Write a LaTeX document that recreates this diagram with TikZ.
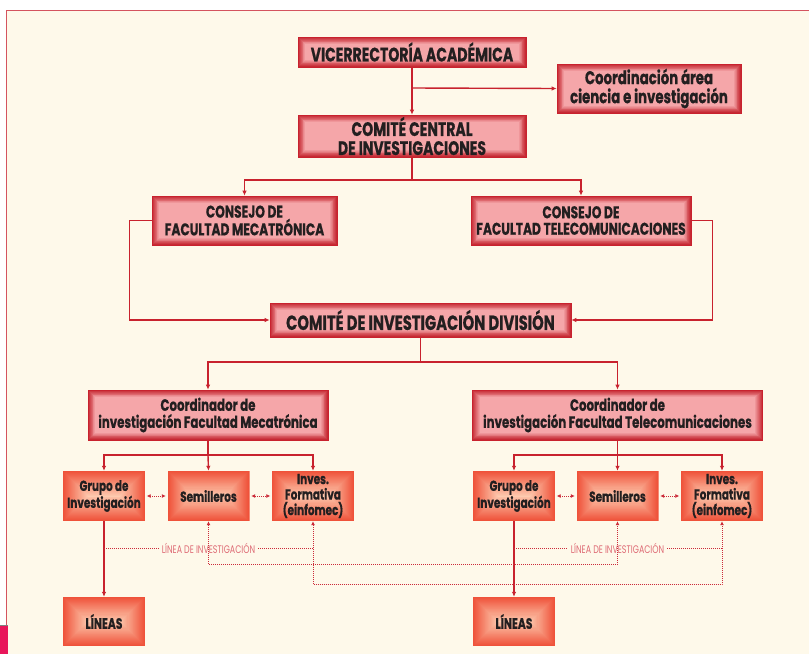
\documentclass[tikz,border=0pt]{standalone}
\usepackage{fontspec}
\newfontfamily\futc{Poppins}[FakeStretch=0.72, BoldFeatures={FakeBold=0.6}]
\usetikzlibrary{arrows.meta,calc}

\definecolor{cream}{HTML}{FEF9EA}
\definecolor{framered}{HTML}{D4545F}
\definecolor{barmag}{HTML}{E8165A}
\definecolor{lnred}{HTML}{C8222E}
\definecolor{dotred}{HTML}{CC2C3A}
\definecolor{lblred}{HTML}{DE6A74}
\definecolor{ink}{HTML}{231F20}
\definecolor{rededge}{HTML}{C62A34}
\definecolor{redface}{HTML}{F5A6A9}
\definecolor{orgedge}{HTML}{EF523A}
\definecolor{orgface}{HTML}{FDCBB0}

\tikzset{
  % nested rectangles: #1 edge colour, #2 centre colour, #3 steps, #4 step size (pt)
  bevel/.style n args={4}{path picture={%
    \foreach \k in {0,...,#3}{%
      \pgfmathtruncatemacro\pc{100*\k/#3}%
      \pgfmathsetmacro\dd{\k*#4}%
      \fill[#2!\pc!#1] ([shift={(\dd pt,\dd pt)}]path picture bounding box.south west)
        rectangle ([shift={(-\dd pt,-\dd pt)}]path picture bounding box.north east);
    }}},
  redbox/.style={rectangle, draw=lnred, line width=0.6pt, inner sep=0pt,
    bevel={rededge}{redface}{8}{0.9}, text=ink, align=center},
  orgbox/.style={rectangle, inner sep=0pt, minimum width=82pt, minimum height=50pt,
    bevel={orgedge}{orgface}{24}{1.03}, text=ink, align=center,
    font=\futc\bfseries\fontsize{14.5}{15.5}\selectfont},
  conn/.style={draw=lnred, line width=1.4pt},
  arr/.style={-{Latex[length=5pt,width=4.5pt]}},
  dots/.style={draw=dotred, line width=1pt, dash pattern=on 1pt off 1pt},
  darr/.style={{Latex[length=4pt,width=4pt]}-{Latex[length=4pt,width=4pt]}, shorten <=1.5pt, shorten >=1.5pt},
  lbl/.style={text=lblred, inner sep=3pt, font=\futc\fontsize{11}{12}\selectfont},
}

\begin{document}
\begin{tikzpicture}[x=1pt,y=-1pt]
\useasboundingbox (0,0) rectangle (809,654);
% page frame
\fill[white] (0,0) rectangle (809,654);
\fill[cream] (6.5,10.5) rectangle (809,654);
\draw[framered, line width=1.5pt] (6.5,654) -- (6.5,10.5) -- (809,10.5);
\fill[barmag] (0,626) rectangle (7.5,654);
\draw[gray, line width=1pt] (0,625.5) -- (7.5,625.5);

% upper levels
\node[redbox, minimum width=228pt, minimum height=30pt, font=\futc\bfseries\fontsize{19.5}{21}\selectfont]
  (vic) at (412,52) {VICERRECTORÍA ACADÉMICA};
\node[redbox, minimum width=184pt, minimum height=49pt, font=\futc\bfseries\fontsize{18.5}{19}\selectfont]
  (coord) at (649,88.5) {Coordinación área\\ciencia e investigación};
\node[redbox, minimum width=228pt, minimum height=42pt, font=\futc\bfseries\fontsize{19.5}{19}\selectfont]
  (ccentral) at (412,136) {COMITÉ CENTRAL\\DE INVESTIGACIONES};
\node[redbox, minimum width=185pt, minimum height=49pt, font=\futc\bfseries\fontsize{17}{16.5}\selectfont]
  (consM) at (244.5,220.5) {CONSEJO DE\\FACULTAD MECATRÓNICA};
\node[redbox, minimum width=220pt, minimum height=49pt, font=\futc\bfseries\fontsize{17}{16.5}\selectfont]
  (consT) at (581,220.5) {CONSEJO DE\\FACULTAD TELECOMUNICACIONES};
\node[redbox, minimum width=301pt, minimum height=34pt, font=\futc\bfseries\fontsize{20.5}{21}\selectfont]
  (divis) at (420.5,320) {COMITÉ DE INVESTIGACIÓN DIVISIÓN};
\node[redbox, minimum width=240pt, minimum height=50pt, font=\futc\bfseries\fontsize{16.4}{17}\selectfont]
  (coordM) at (208,415) {Coordinador de\\investigación Facultad Mecatrónica};
\node[redbox, minimum width=290pt, minimum height=50pt, font=\futc\bfseries\fontsize{16.4}{17}\selectfont]
  (coordT) at (617.5,415) {Coordinador de\\investigación Facultad Telecomunicaciones};

% research units
\node[orgbox] (grupoM) at (104,496) {Grupo de\\Investigación};
\node[orgbox] (semM) at (208.5,496) {Semilleros};
\node[orgbox] (invM) at (313,496) {Inves.\\Formativa\\(einfomec)};
\node[orgbox] (grupoT) at (514,496) {Grupo de\\Investigación};
\node[orgbox] (semT) at (617.5,496) {Semilleros};
\node[orgbox] (invT) at (722,496) {Inves.\\Formativa\\(einfomec)};
\node[orgbox, minimum height=49pt, font=\futc\bfseries\fontsize{15}{16}\selectfont] (linM) at (104,621.5) {LÍNEAS};
\node[orgbox, minimum height=49pt, font=\futc\bfseries\fontsize{15}{16}\selectfont] (linT) at (514,621.5) {LÍNEAS};

% solid connectors
\coordinate (j1) at (412,88);
\coordinate (j2) at (412,180);
\coordinate (j3) at (420.5,362);
\coordinate (j4) at (208,455);
\coordinate (j5) at (617.5,455);
\draw[conn,arr] (vic) -- (ccentral);
\draw[conn,arr] (j1) -- (coord.west);
\draw[conn] (ccentral.south) -- (j2);
\draw[conn,arr] (j2) -| (consM.north);
\draw[conn,arr] (j2) -| (consT.north);
\draw[conn,arr] (consM.west) -- ++(-22,0) |- (divis.west);
\draw[conn,arr] (consT.east) -- ++(21,0) |- (divis.east);
\draw[conn] (divis.south) -- (j3);
\draw[conn,arr] (j3) -| (coordM.north);
\draw[conn,arr] (j3) -| (coordT.north);
\draw[conn] (coordM.south) -- (j4);
\draw[conn,arr] (j4) -| (grupoM.north);
\draw[conn,arr] (j4) -- (semM.north);
\draw[conn,arr] (j4) -| (invM.north);
\draw[conn] (coordT.south) -- (j5);
\draw[conn,arr] (j5) -| (grupoT.north);
\draw[conn,arr] (j5) -- (semT.north);
\draw[conn,arr] (j5) -| (invT.north);
\draw[conn,arr] (grupoM) -- (linM);
\draw[conn,arr] (grupoT) -- (linT);

% dotted links
\draw[dots,darr] (grupoM) -- (semM);
\draw[dots,darr] (semM) -- (invM);
\draw[dots,darr] (grupoT) -- (semT);
\draw[dots,darr] (semT) -- (invT);

\coordinate (lineY) at (0,548);
\node[lbl] (lblM) at (semM |- lineY) {LÍNEA DE INVESTIGACIÓN};
\node[lbl] (lblT) at (semT |- lineY) {LÍNEA DE INVESTIGACIÓN};
\draw[dots] (grupoM |- lineY) -- (lblM.west);
\draw[dots] (lblM.east) -- (invM |- lineY);
\draw[dots] (grupoT |- lineY) -- (lblT.west);
\draw[dots] (lblT.east) -- (invT |- lineY);

\draw[dots,{Latex[length=4pt,width=4pt]}-{Latex[length=4pt,width=4pt]}]
  (semM.south) -- ++(0,43) -| (semT.south);
\draw[dots,{Latex[length=4pt,width=4pt]}-{Latex[length=4pt,width=4pt]}]
  (invM.south) -- ++(0,63) -| (invT.south);
\end{tikzpicture}
\end{document}
